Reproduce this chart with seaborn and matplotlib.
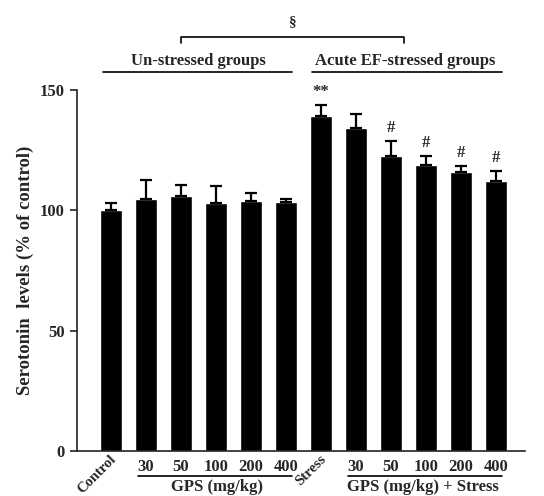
import numpy as np
import pandas as pd
import matplotlib
matplotlib.use("Agg")
import matplotlib.pyplot as plt
import matplotlib.transforms as mtransforms
import seaborn as sns

groups = ["Control", "30", "50", "100", "200", "400",
          "Stress", "30s", "50s", "100s", "200s", "400s"]
tick_labels = ["Control", "30", "50", "100", "200", "400",
               "Stress", "30", "50", "100", "200", "400"]
values = [100.0, 104.8, 106.0, 103.0, 104.0, 103.3,
          139.0, 134.2, 122.7, 118.7, 115.9, 112.3]
errors = [3.0, 7.6, 4.5, 7.0, 3.2, 1.6,
          4.8, 5.8, 6.3, 4.0, 2.5, 4.0]
marks = ["", "", "", "", "", "", "**", "", "#", "#", "#", "#"]
yticks = [0, 50, 100, 150]

sns.set_theme(style="ticks")
plt.rcParams['font.family'] = ['Liberation Serif', 'DejaVu Serif']
plt.rcParams['font.weight'] = 'bold'

FS = 12
W, H = 544, 496
fig = plt.figure(figsize=(W / 100, H / 100), dpi=100)
ax = fig.add_axes([77 / W, 1 - 451 / H, (525 - 77) / W, (451 - 90) / H])

df = pd.DataFrame({"group": groups, "value": values})
sns.barplot(data=df, x="group", y="value", order=groups, color="black",
            width=0.63, errorbar=None, ax=ax, saturation=1)
x = np.arange(len(groups))
ax.errorbar(x, values, yerr=[np.zeros(len(errors)), errors], fmt="none",
            ecolor="black", elinewidth=1.6, capsize=4.5, capthick=1.6)

ax.set_xlim(-0.97, 11.83)
ax.set_ylim(0, 150)
ax.set_yticks(yticks)
ax.set_yticklabels([str(t) for t in yticks], fontsize=FS, fontweight="bold")
ax.set_xticks([])
ax.set_xlabel("")
ax.set_ylabel("Serotonin  levels (% of control)", fontsize=13.5,
              fontweight="bold", labelpad=4)
for s in ["top", "right"]:
    ax.spines[s].set_visible(False)
for s in ["left", "bottom"]:
    ax.spines[s].set_linewidth(1.2)
    ax.spines[s].set_color("#222222")
ax.tick_params(axis="y", direction="out", length=5, width=1.2, color="#222222", pad=4)

# significance marks
for xi, v, e, m in zip(x, values, errors, marks):
    if m:
        ax.text(xi, v + e + 2.0, m, ha="center", va="bottom",
                fontsize=FS, fontweight="bold")

tr = mtransforms.blended_transform_factory(ax.transData, fig.transFigure)
def fy(px):
    return 1 - px / H

# x tick labels
for xi, lab in zip(x, tick_labels):
    if lab in ("Control", "Stress"):
        ax.text(xi + 0.22, fy(453), lab, transform=tr, rotation=45,
                ha="right", va="top", fontsize=10.5, fontweight="bold",
                clip_on=False)
    else:
        ax.text(xi, fy(467), lab, transform=tr, ha="center", va="center",
                fontsize=FS, fontweight="bold", clip_on=False)

# bottom group lines and labels
for x0, x1, lab, xc in [(0.77, 5.17, "GPS (mg/kg)", 3.03),
                         (6.77, 11.17, "GPS (mg/kg) + Stress", 8.9)]:
    ax.plot([x0, x1], [fy(476), fy(476)], transform=tr, color="black",
            lw=1.2, clip_on=False)
    ax.text(xc, fy(487), lab, transform=tr, ha="center", va="center",
            fontsize=FS, fontweight="bold", clip_on=False)

# top group lines and labels
for x0, x1, lab, xc in [(-0.23, 5.17, "Un-stressed groups", 2.49),
                         (5.74, 11.17, "Acute EF-stressed groups", 8.4)]:
    ax.plot([x0, x1], [fy(72), fy(72)], transform=tr, color="black",
            lw=1.2, clip_on=False)
    ax.text(xc, fy(61), lab, transform=tr, ha="center", va="center",
            fontsize=FS, fontweight="bold", clip_on=False)

# bracket
ax.plot([2.0, 2.0, 8.37, 8.37], [fy(43), fy(37), fy(37), fy(43)],
        transform=tr, color="black", lw=1.2, clip_on=False)
ax.text(5.2, fy(22), "§", transform=tr, ha="center", va="center",
        fontsize=11, fontweight="bold", clip_on=False)

fig.savefig("out.png", dpi=100)
